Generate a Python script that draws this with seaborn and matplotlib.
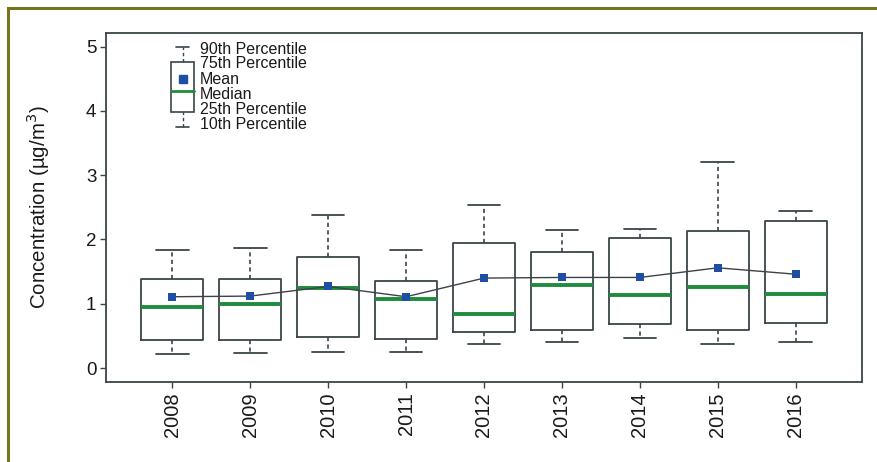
import numpy as np
import pandas as pd
import matplotlib
matplotlib.use("Agg")
import matplotlib.pyplot as plt
from matplotlib.lines import Line2D
from matplotlib.patches import Rectangle
import seaborn as sns

# Annual concentration statistics (µg/m³)
years = ["2008", "2009", "2010", "2011", "2012", "2013", "2014", "2015", "2016"]
p10 = [0.22, 0.24, 0.25, 0.25, 0.38, 0.41, 0.47, 0.38, 0.40]
p25 = [0.43, 0.43, 0.48, 0.46, 0.56, 0.59, 0.69, 0.59, 0.70]
median = [0.95, 1.00, 1.25, 1.07, 0.84, 1.30, 1.14, 1.26, 1.16]
mean = [1.11, 1.12, 1.27, 1.11, 1.40, 1.41, 1.41, 1.56, 1.46]
p75 = [1.39, 1.39, 1.73, 1.35, 1.95, 1.80, 2.02, 2.13, 2.29]
p90 = [1.83, 1.86, 2.38, 1.83, 2.54, 2.15, 2.17, 3.21, 2.45]

legend_labels = ["90th Percentile", "75th Percentile", "Mean", "Median",
                 "25th Percentile", "10th Percentile"]

sns.set_style("ticks")
plt.rcParams["font.family"] = ["Liberation Sans", "DejaVu Sans"]

EDGE = "#3a4549"
GREEN = "#1e8c3c"
BLUE = "#1f4ea3"
OLIVE = "#76751f"

fig = plt.figure(figsize=(8.77, 4.62), dpi=100)
ax = fig.add_axes([106 / 877, 1 - 382.3 / 462, 756 / 877, 349.3 / 462])

# Olive frame around the figure (visible on top and left)
fig.add_artist(Rectangle((7.5 / 877, -0.1), 1.2, 1.1 - 8.5 / 462,
                         transform=fig.transFigure, fill=False,
                         edgecolor=OLIVE, linewidth=2.2, clip_on=False))

positions = np.arange(len(years))
stats = [
    {"whislo": lo, "q1": q1, "med": md, "q3": q3, "whishi": hi, "fliers": []}
    for lo, q1, md, q3, hi in zip(p10, p25, median, p75, p90)
]
ax.bxp(stats, positions=positions, widths=0.8, showfliers=False,
       boxprops=dict(color=EDGE, linewidth=1.3),
       whiskerprops=dict(color=EDGE, linewidth=1.2, linestyle=(0, (2.5, 2))),
       capprops=dict(color=EDGE, linewidth=1.3),
       medianprops=dict(color=GREEN, linewidth=2.8),
       capwidths=0.42)

means_df = pd.DataFrame({"pos": positions, "mean": mean})
sns.lineplot(data=means_df, x="pos", y="mean", ax=ax, color="#3d4248",
             linewidth=1.0, zorder=3)
sns.scatterplot(data=means_df, x="pos", y="mean", ax=ax, marker="s",
                color=BLUE, s=40, edgecolor=BLUE, linewidth=0, zorder=4)

ax.set_xlim(-0.85, 8.85)
ax.set_ylim(-0.22, 5.21)
ax.set_xticks(positions)
ax.set_xticklabels(years, rotation=90, fontsize=14.5)
ax.set_yticks([0, 1, 2, 3, 4, 5])
ax.set_yticklabels(["0", "1", "2", "3", "4", "5"], fontsize=13.5)
ax.tick_params(axis="both", direction="out", length=4, width=1.0,
               color=EDGE, pad=3, labelcolor="#1a1a1a")
ax.set_xlabel("")
ax.set_ylabel("Concentration (µg/m$^3$)", fontsize=14.8, color="#1a1a1a",
              labelpad=24)
for sp in ax.spines.values():
    sp.set_color(EDGE)
    sp.set_linewidth(1.3)

# Legend glyph describing the box elements
tr = ax.transAxes
bx0, bx1, cx = 0.086, 0.1164, 0.1012
c0, c1 = 0.0926, 0.1098
y90, y75, ymean, ymed, y25, y10 = 0.960, 0.917, 0.868, 0.834, 0.774, 0.731
ax.add_patch(Rectangle((bx0, y25), bx1 - bx0, y75 - y25, transform=tr,
                       fill=False, edgecolor=EDGE, linewidth=1.2))
ax.add_line(Line2D([cx, cx], [y75, y90], transform=tr, color=EDGE,
                   linewidth=1.0, linestyle=(0, (2.5, 2))))
ax.add_line(Line2D([cx, cx], [y10, y25], transform=tr, color=EDGE,
                   linewidth=1.0, linestyle=(0, (2.5, 2))))
ax.add_line(Line2D([c0, c1], [y90, y90], transform=tr, color=EDGE, linewidth=1.2))
ax.add_line(Line2D([c0, c1], [y10, y10], transform=tr, color=EDGE, linewidth=1.2))
ax.add_line(Line2D([bx0, bx1], [ymed, ymed], transform=tr, color=GREEN, linewidth=2.0))
ax.add_line(Line2D([cx], [ymean], transform=tr, marker="s", markersize=6,
                   color=BLUE, linestyle="none"))
label_y = [0.954, 0.914, 0.868, 0.823, 0.780, 0.737]
for ty, lab in zip(label_y, legend_labels):
    ax.text(0.1243, ty, lab, transform=tr, fontsize=11.5, va="center",
            ha="left", color="#1a1a1a")

fig.savefig("out.png", dpi=100)
